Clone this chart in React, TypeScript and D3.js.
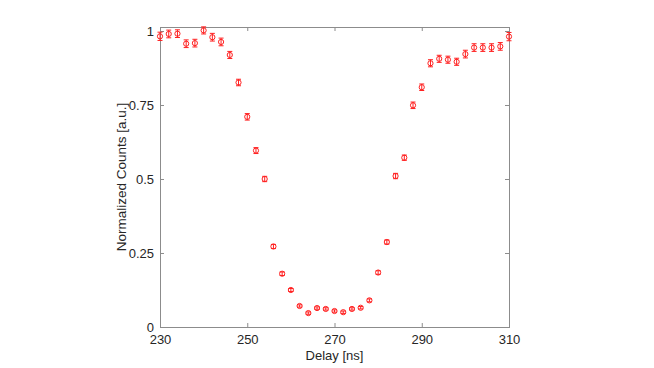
import { useEffect, useRef } from "react";
import * as d3 from "d3";

const width = 654;
const height = 368;

const margin = {
  top: 27,
  bottom: 41,
  left: 160,
  right: 145,
};

// delay in ns, one point every 2 ns
const delays = [
  230, 232, 234, 236, 238, 240, 242, 244, 246, 248, 250, 252, 254, 256, 258, 260, 262, 264, 266, 268,
  270, 272, 274, 276, 278, 280, 282, 284, 286, 288, 290, 292, 294, 296, 298, 300, 302, 304, 306, 308, 310,
];

const counts = [
  0.982, 0.99, 0.991, 0.957, 0.959, 1.002, 0.979, 0.963, 0.919, 0.826, 0.71, 0.596, 0.5, 0.272, 0.18,
  0.125, 0.071, 0.047, 0.064, 0.061, 0.054, 0.05, 0.061, 0.065, 0.09, 0.184, 0.287, 0.51, 0.572, 0.749,
  0.81, 0.891, 0.906, 0.903, 0.896, 0.922, 0.944, 0.944, 0.944, 0.948, 0.981,
];

const errors = [
  0.014, 0.013, 0.013, 0.013, 0.013, 0.012, 0.013, 0.013, 0.012, 0.011, 0.011, 0.01, 0.009, 0.007, 0.006,
  0.005, 0.004, 0.004, 0.004, 0.004, 0.004, 0.004, 0.004, 0.004, 0.005, 0.006, 0.007, 0.009, 0.009, 0.011,
  0.011, 0.012, 0.012, 0.012, 0.012, 0.013, 0.013, 0.013, 0.013, 0.013, 0.014,
];

const xTicks = [230, 250, 270, 290, 310];
const yTicks = [0, 0.25, 0.5, 0.75, 1];
const yTickLabels = ["0", "0.25", "0.5", "0.75", "1"];

const axisColor = "#8c8c8c";
const textColor = "#262626";
const red = "#ff2020";

const App = () => {
  const axisRef = useRef<SVGGElement>(null);

  const left = margin.left;
  const right = width - margin.right;
  const top = margin.top;
  const bottom = height - margin.bottom;

  const xScale = d3.scaleLinear().domain([230, 310]).range([left, right]);
  const yScale = d3.scaleLinear().domain([0, 1.0135]).range([bottom, top]);

  const data = delays.map((d, i) => ({ x: d, y: counts[i], e: errors[i] }));

  useEffect(() => {
    const g = d3.select(axisRef.current);
    g.selectAll("*").remove();

    const style = (sel: any, hideText: boolean) => {
      sel.selectAll(".domain").remove();
      sel.selectAll("line").attr("stroke", axisColor);
      sel
        .selectAll("text")
        .attr("fill", textColor)
        .attr("font-size", "13px")
        .attr("font-family", "'Liberation Sans', Arial, sans-serif");
      if (hideText) sel.selectAll("text").remove();
    };

    const xAxis = d3.axisBottom(xScale).tickValues(xTicks).tickSize(-4).tickPadding(8).tickFormat(d3.format("d"));
    g.append("g").attr("transform", `translate(0,${bottom})`).call(xAxis).call(style, false);

    const xAxisTop = d3.axisTop(xScale).tickValues(xTicks).tickSize(-4);
    g.append("g").attr("transform", `translate(0,${top})`).call(xAxisTop).call(style, true);

    const yAxis = d3
      .axisLeft(yScale)
      .tickValues(yTicks)
      .tickSize(-4)
      .tickPadding(6)
      .tickFormat((d, i) => yTickLabels[i]);
    g.append("g").attr("transform", `translate(${left},0)`).call(yAxis).call(style, false);

    const yAxisRight = d3.axisRight(yScale).tickValues(yTicks).tickSize(-4);
    g.append("g").attr("transform", `translate(${right},0)`).call(yAxisRight).call(style, true);
  }, []);

  return (
    <svg
      width={width}
      height={height}
      viewBox={`0 0 ${width} ${height}`}
      style={{ position: "absolute", left: 0, top: 0, background: "#fff" }}
    >
      <rect x={0} y={0} width={width} height={height} fill="#fff" />
      <g ref={axisRef}></g>
      <rect
        x={left}
        y={top}
        width={right - left}
        height={bottom - top}
        fill="none"
        stroke={axisColor}
        strokeWidth={1}
        shapeRendering="crispEdges"
      />
      <g className="points">
        {data.map((d, i) => {
          const cx = xScale(d.x);
          const y0 = yScale(d.y - d.e);
          const y1 = yScale(d.y + d.e);
          return (
            <g key={i} stroke={red} strokeWidth={1} fill="none">
              <line x1={cx} x2={cx} y1={y0} y2={y1} />
              <line x1={cx - 2.5} x2={cx + 2.5} y1={y0} y2={y0} />
              <line x1={cx - 2.5} x2={cx + 2.5} y1={y1} y2={y1} />
              <circle cx={cx} cy={yScale(d.y)} r={2.6} />
            </g>
          );
        })}
      </g>
      <text
        x={(left + right) / 2}
        y={360}
        textAnchor="middle"
        fontSize={13}
        fill={textColor}
        fontFamily="'Liberation Sans', Arial, sans-serif"
      >
        Delay [ns]
      </text>
      <text
        transform={`translate(126,${(top + bottom) / 2}) rotate(-90)`}
        textAnchor="middle"
        fontSize={13.5}
        fill={textColor}
        fontFamily="'Liberation Sans', Arial, sans-serif"
      >
        Normalized Counts [a.u.]
      </text>
    </svg>
  );
};

export default App;
